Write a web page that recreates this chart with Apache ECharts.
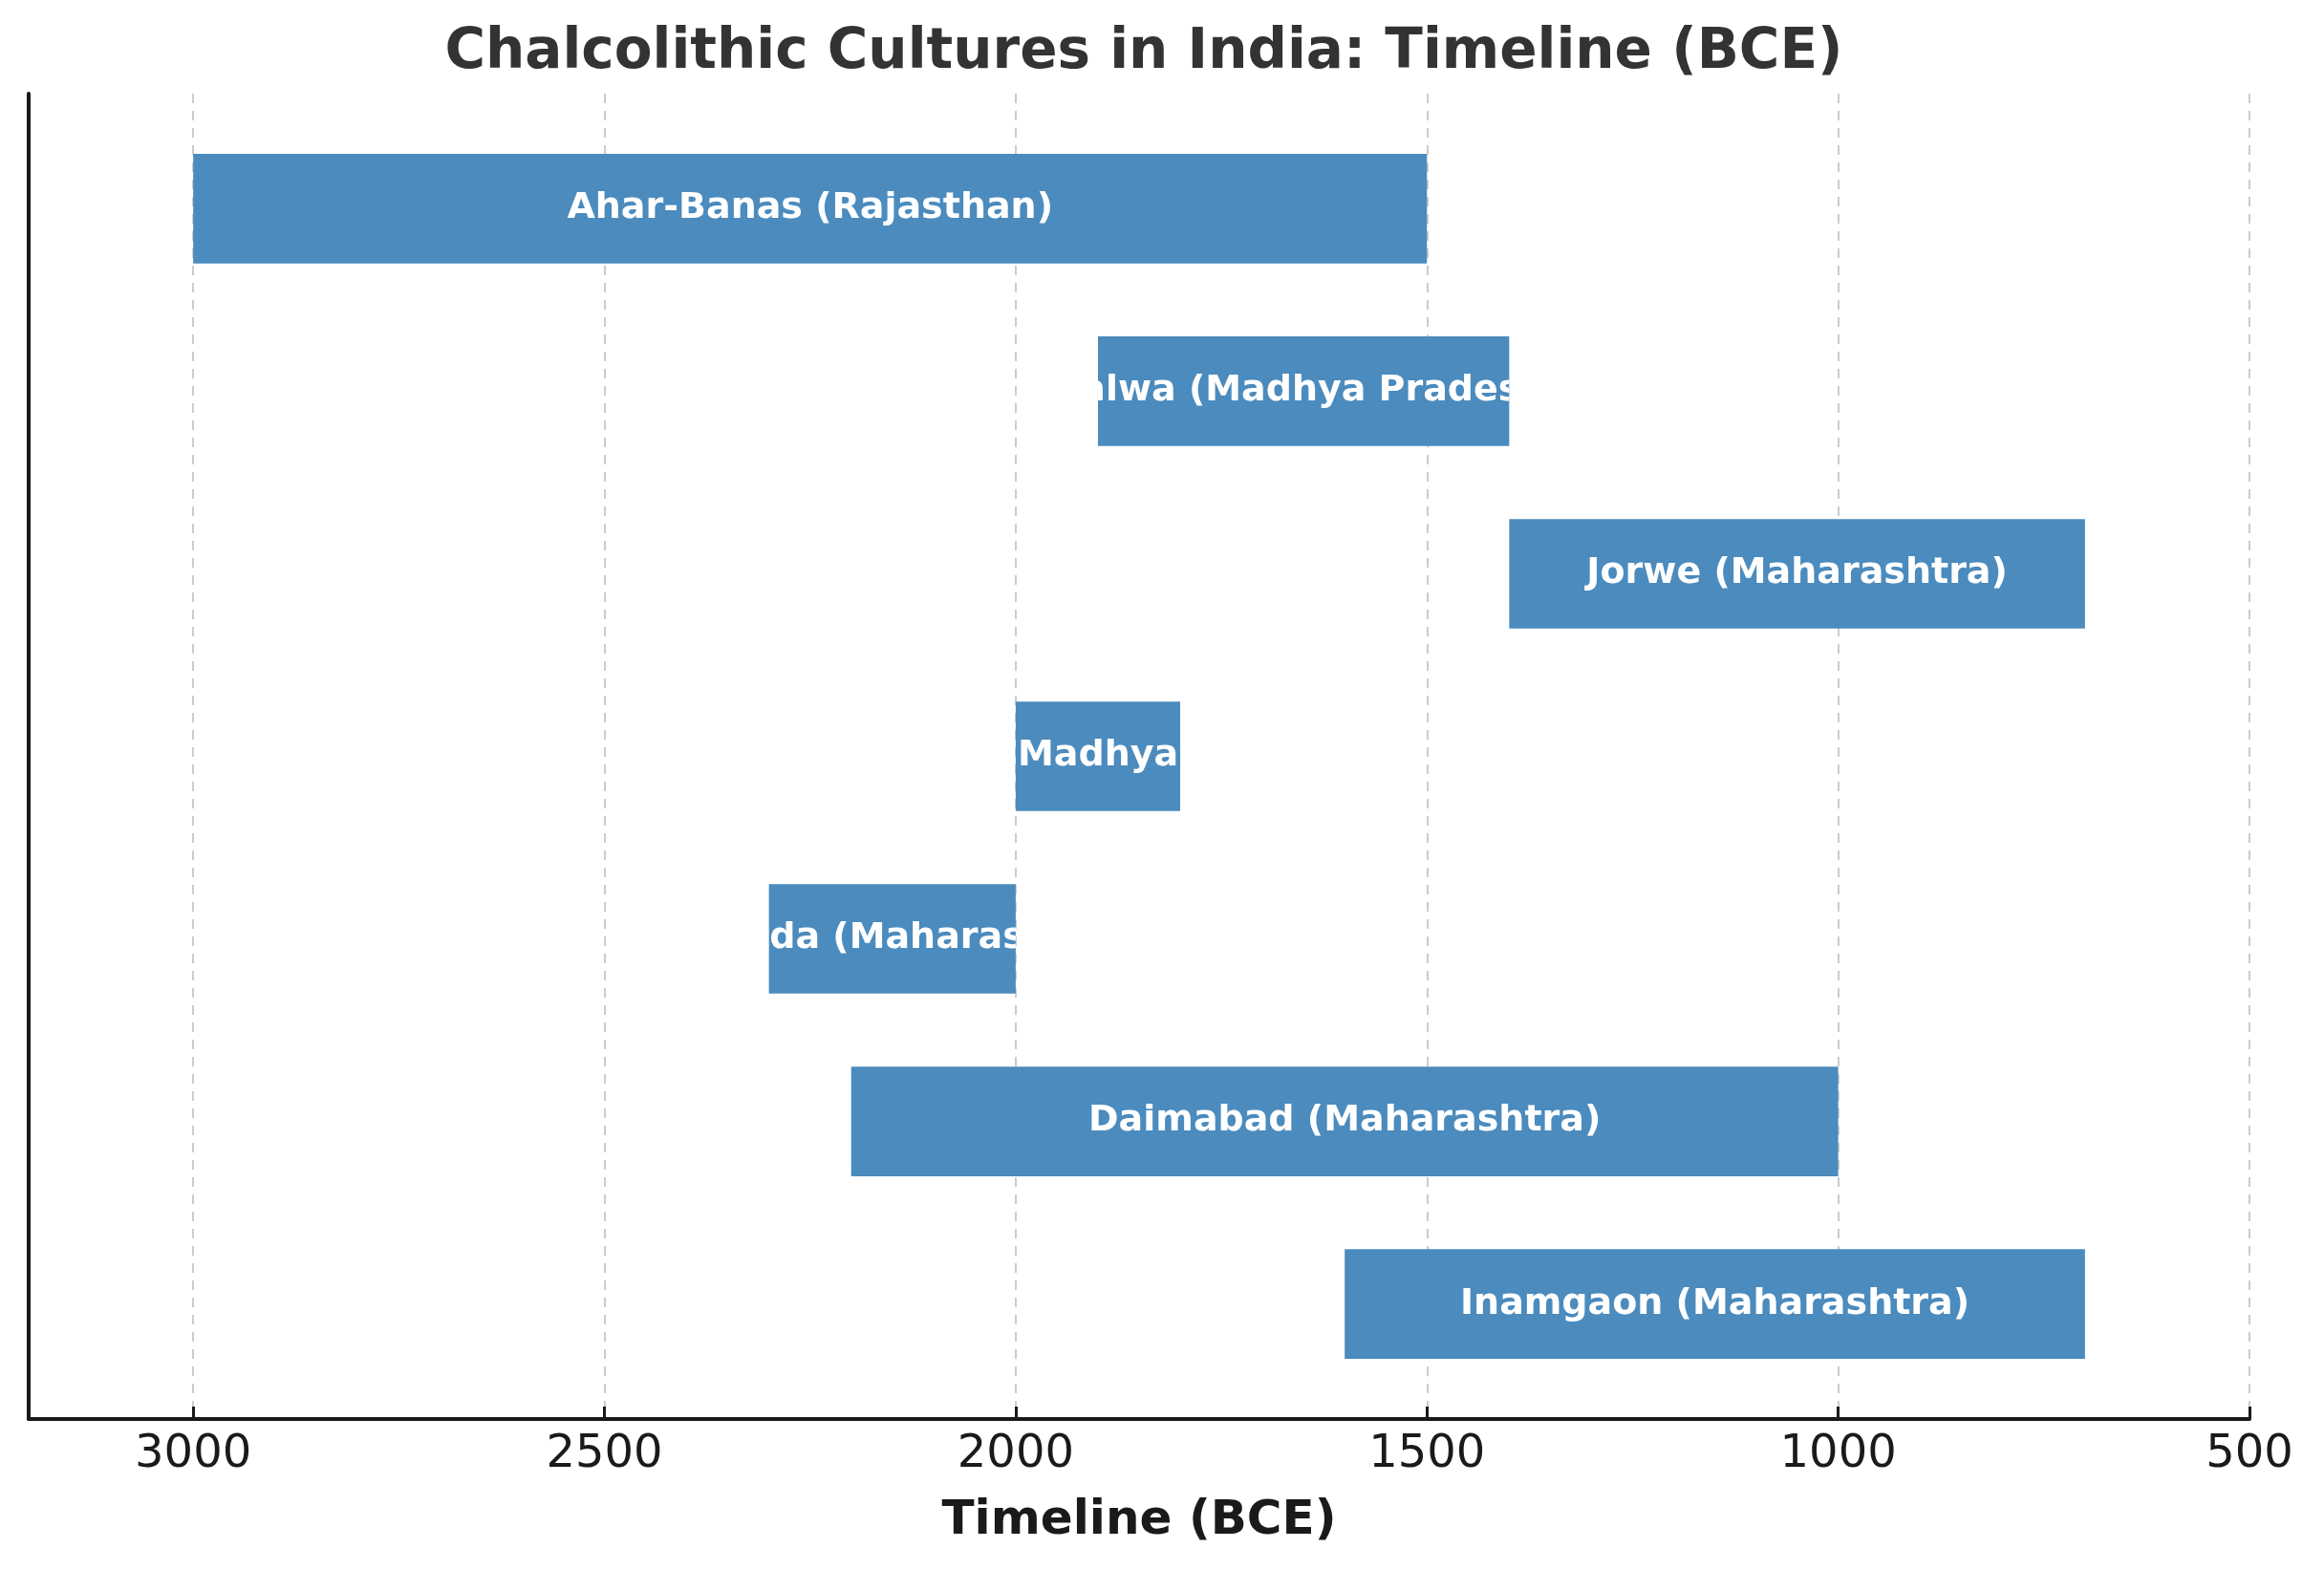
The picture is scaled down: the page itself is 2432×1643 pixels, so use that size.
<!DOCTYPE html>
<html>
<head>
<meta charset="utf-8">
<script src="https://cdn.jsdelivr.net/npm/echarts@6/dist/echarts.min.js"></script>
<style>html,body{margin:0;padding:0;background:#fff;}#c{width:2432px;height:1643px;}</style>
</head>
<body>
<div id="c"></div>
<script>
const cultures = ['Ahar-Banas (Rajasthan)', 'Malwa (Madhya Pradesh)', 'Jorwe (Maharashtra)', 'Kayatha (Madhya Pradesh)', 'Savalda (Maharashtra)', 'Daimabad (Maharashtra)', 'Inamgaon (Maharashtra)'];
const startYears = [3000, 1900, 1400, 2000, 2300, 2200, 1600];
const endYears = [1500, 1400, 700, 1800, 2000, 1000, 700];
const xTicks = [3000, 2500, 2000, 1500, 1000, 500];

const data = cultures.map((c, i) => [i, startYears[i], endYears[i], c]);

const chart = echarts.init(document.getElementById('c'), null, {renderer: 'canvas'});
const FONT = '"DejaVu Sans", sans-serif';
chart.setOption({
  backgroundColor: '#ffffff',
  animation: false,
  title: {
    text: 'Chalcolithic Cultures in India: Timeline (BCE)',
    left: 1192, top: 22, textAlign: 'center',
    textStyle: {fontFamily: FONT, fontWeight: 'bold', fontSize: 58, color: '#333333'}
  },
  grid: {left: 30, right: 78, top: 98, bottom: 158, containLabel: false},
  xAxis: {
    type: 'value', min: 500, max: 3200, interval: 500, inverse: true,
    name: 'Timeline (BCE)', nameLocation: 'middle', nameGap: 82,
    nameTextStyle: {fontFamily: FONT, fontWeight: 'bold', fontSize: 50, color: '#1a1a1a'},
    axisLine: {show: true, onZero: false, lineStyle: {color: '#1a1a1a', width: 4}},
    axisTick: {show: true, inside: true, length: 13, lineStyle: {color: '#1a1a1a', width: 3}},
    axisLabel: {
      fontFamily: FONT, fontSize: 48, color: '#1a1a1a', margin: 14,
      formatter: v => (xTicks.indexOf(v) >= 0 ? String(v) : '')
    },
    splitLine: {show: true, lineStyle: {color: '#cccccc', width: 2, type: [10, 8]}}
  },
  yAxis: {
    type: 'value', min: -0.63, max: 6.63, inverse: true,
    axisLine: {show: true, onZero: false, lineStyle: {color: '#1a1a1a', width: 4}},
    axisTick: {show: false}, axisLabel: {show: false}, splitLine: {show: false}
  },
  series: [{
    type: 'custom',
    data: data,
    encode: {x: [1, 2], y: 0},
    renderItem: function (params, api) {
      const i = api.value(0);
      const p1 = api.coord([api.value(1), i - 0.3]);
      const p2 = api.coord([api.value(2), i + 0.3]);
      const x = Math.min(p1[0], p2[0]);
      const y = Math.min(p1[1], p2[1]);
      const w = Math.abs(p2[0] - p1[0]);
      const h = Math.abs(p2[1] - p1[1]);
      const label = cultures[params.dataIndex];
      return {
        type: 'group',
        children: [
          {type: 'rect', shape: {x: x, y: y, width: w, height: h}, style: {fill: '#4B8BBE'}},
          {
            type: 'text',
            clipPath: {type: 'rect', shape: {x: x, y: y, width: w, height: h}},
            style: {
              x: x + w / 2, y: y + h / 2, text: label,
              fill: '#ffffff', font: 'bold 38px "DejaVu Sans", sans-serif',
              align: 'center', verticalAlign: 'middle'
            }
          }
        ]
      };
    }
  }]
});
</script>
</body>
</html>
